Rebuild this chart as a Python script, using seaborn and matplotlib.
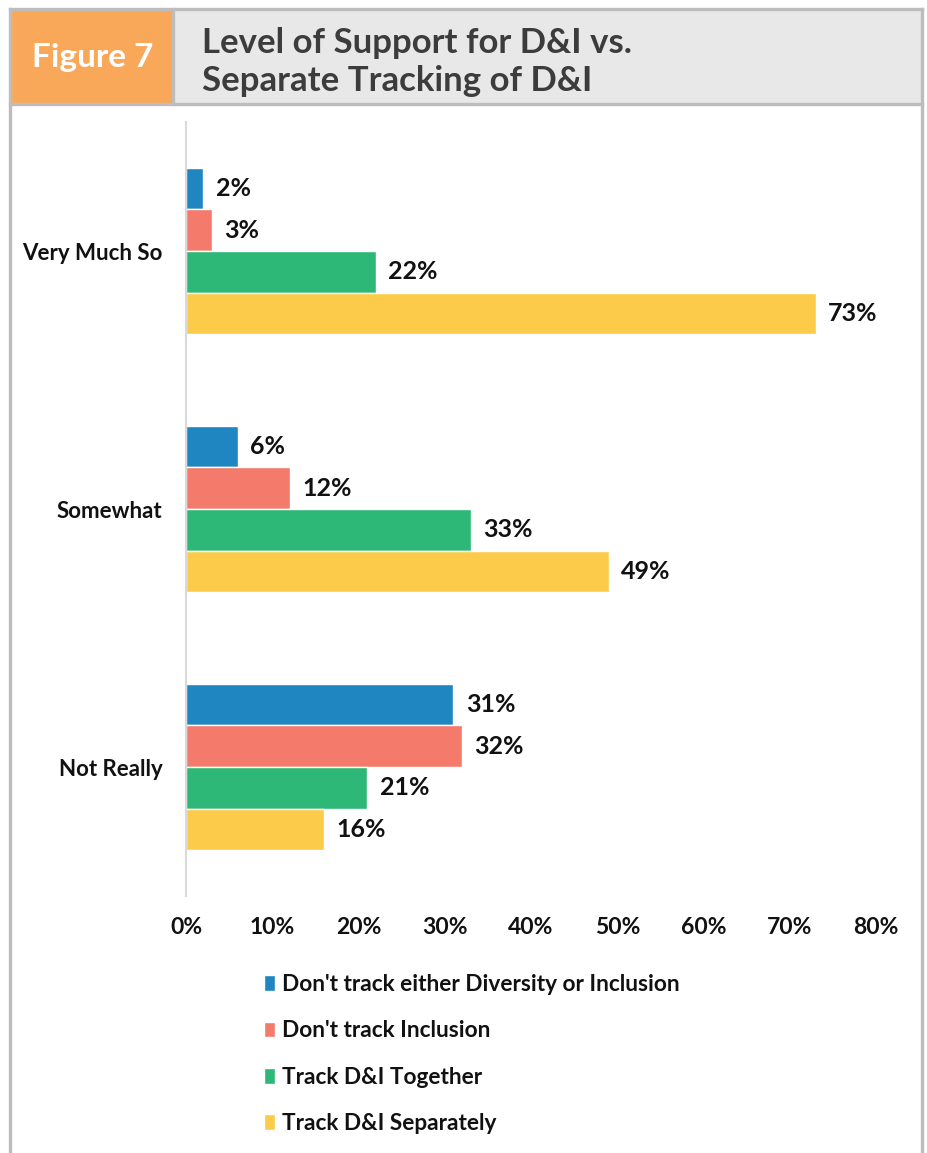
import matplotlib
matplotlib.use("Agg")
import matplotlib.pyplot as plt
from matplotlib.patches import Rectangle
from matplotlib.lines import Line2D
import seaborn as sns
import pandas as pd

# Survey responses: level of support for D&I by how the organisation tracks D&I
levels = ["Very Much So", "Somewhat", "Not Really"]
series = [
    "Don't track either Diversity or Inclusion",
    "Don't track Inclusion",
    "Track D&I Together",
    "Track D&I Separately",
]
dont_track_either = [2, 6, 31]
dont_track_inclusion = [3, 12, 32]
track_together = [22, 33, 21]
track_separately = [73, 49, 16]
x_ticks = [0, 10, 20, 30, 40, 50, 60, 70, 80]
colors = ["#1F86C1", "#F47A6B", "#2DB877", "#FDCB4A"]

rows = []
for name, vals in zip(series, [dont_track_either, dont_track_inclusion,
                               track_together, track_separately]):
    for lvl, v in zip(levels, vals):
        rows.append({"level": lvl, "series": name, "value": v})
df = pd.DataFrame(rows)

sns.set_theme(style="white")
plt.rcParams["font.family"] = ["Lato", "DejaVu Sans"]
plt.rcParams["font.weight"] = "bold"

W, H = 928, 1153
fig = plt.figure(figsize=(W / 100, H / 100), dpi=100)
fig.patch.set_facecolor("white")

def fx(px):
    return px / W

def fy(py):
    return 1 - py / H

# Outer frame and header panels
border = "#BDBDBD"
fig.patches.append(Rectangle((fx(10), fy(103)), fx(162), 93 / H,
                             transform=fig.transFigure, facecolor="#F9A85A",
                             edgecolor="none", zorder=0))
fig.patches.append(Rectangle((fx(174), fy(103)), fx(747), 93 / H,
                             transform=fig.transFigure, facecolor="#E8E8E8",
                             edgecolor="none", zorder=0))
for (x0, y0, x1, y1) in [(10, 9, 922, 9), (10, 104, 922, 104), (173, 9, 173, 104),
                         (10, 9, 10, 1153), (922, 9, 922, 1153)]:
    fig.add_artist(Line2D([fx(x0), fx(x1)], [fy(y0), fy(y1)],
                          transform=fig.transFigure, color=border, lw=2.4,
                          solid_capstyle="projecting"))

fig.text(fx(93), fy(58), "Figure 7", color="white", fontsize=24,
         fontweight="bold", ha="center", va="center")
fig.text(fx(202), fy(62), "Level of Support for D&I vs.\nSeparate Tracking of D&I",
         color="#3C3C3C", fontsize=25, fontweight="bold", ha="left",
         va="center", linespacing=1.2)

ax = fig.add_axes([fx(186), fy(896), fx(876) - fx(186), (896 - 122) / H])
sns.barplot(data=df, y="level", x="value", hue="series", orient="h",
            order=levels, hue_order=series, palette=colors, width=0.645,
            saturation=1, ax=ax, errorbar=None, gap=0)

for cont, vals in zip(ax.containers, [dont_track_either, dont_track_inclusion,
                                      track_together, track_separately]):
    ax.bar_label(cont, labels=[f"{v}%" for v in vals], padding=9,
                 fontsize=18, fontweight="bold", color="#111111")

ax.set_xlim(0, 80)
ax.set_ylim(2.5, -0.5)
ax.set_xticks(x_ticks)
ax.set_xticklabels([f"{t}%" for t in x_ticks])
ax.set_xlabel("")
ax.set_ylabel("")
for s in ["top", "right", "bottom"]:
    ax.spines[s].set_visible(False)
ax.spines["left"].set_color("#D9D9D9")
ax.spines["left"].set_linewidth(1.5)
ax.tick_params(axis="x", length=0, pad=15, labelsize=16.5, colors="#111111")
ax.tick_params(axis="y", length=0, pad=17, labelsize=16, colors="#111111")
for lab in ax.get_xticklabels() + ax.get_yticklabels():
    lab.set_fontweight("bold")
ax.set_facecolor("white")

handles, labels = ax.get_legend_handles_labels()
ax.legend_.remove()
leg = fig.legend(handles, labels, loc="upper left",
                 bbox_to_anchor=(fx(255), fy(965)), frameon=False,
                 fontsize=16.3, handlelength=0.5, handleheight=0.7,
                 handletextpad=0.3, labelspacing=1.12, borderaxespad=0)
for t in leg.get_texts():
    t.set_fontweight("bold")
    t.set_color("#111111")

fig.savefig("out.png", dpi=100)
